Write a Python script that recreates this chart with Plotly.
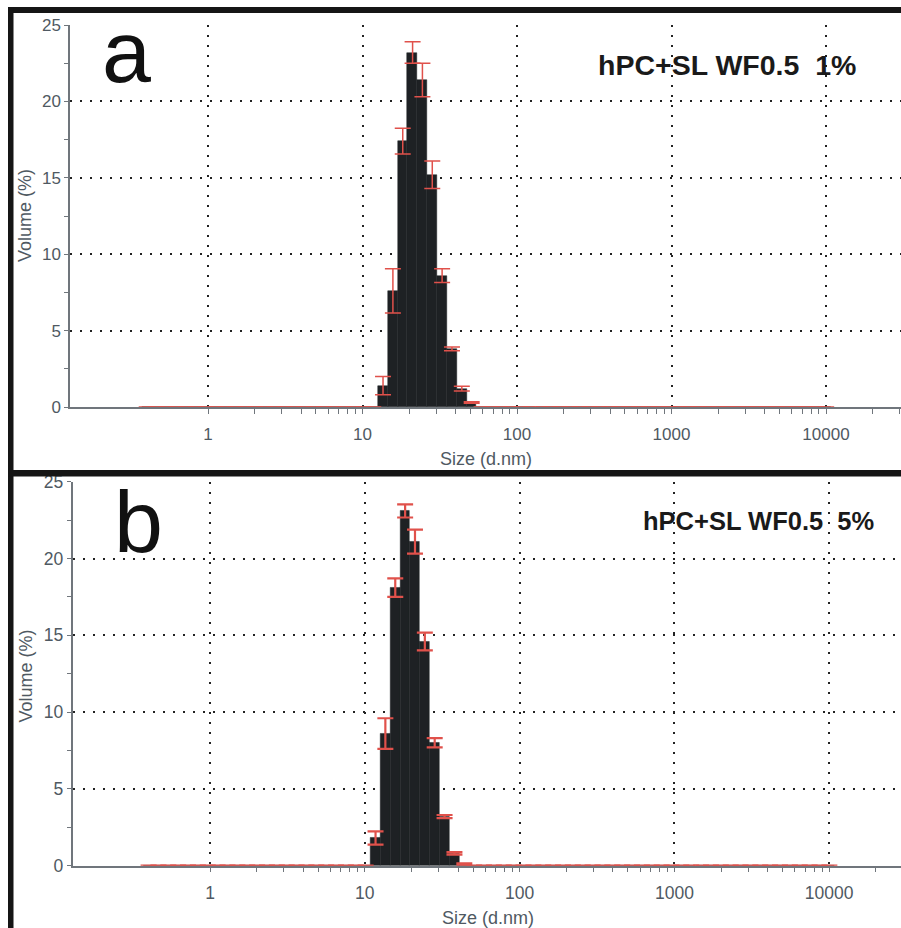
import plotly.graph_objects as go

W, H = 901, 928

# Malvern size classes (d.nm)
sizes_nm = [
    0.4, 0.4632, 0.5365, 0.6213, 0.7195, 0.8332, 0.9649, 1.117, 1.294, 1.499,
    1.736, 2.010, 2.328, 2.696, 3.122, 3.615, 4.187, 4.849, 5.615, 6.503,
    7.531, 8.721, 10.10, 11.70, 13.54, 15.69, 18.17, 21.04, 24.36, 28.21,
    32.67, 37.84, 43.82, 50.75, 58.77, 68.06, 78.82, 91.28, 105.7, 122.4,
    141.8, 164.2, 190.1, 220.2, 255.0, 295.3, 342.0, 396.1, 458.7, 531.2,
    615.1, 712.4, 825.0, 955.4, 1106, 1281, 1484, 1718, 1990, 2305,
    2669, 3091, 3580, 4145, 4801, 5560, 6439, 7456, 8635, 10000,
]

# Panel a: hPC+SL WF0.5 1%
volume_a = [
    0, 0, 0, 0, 0, 0, 0, 0, 0, 0,
    0, 0, 0, 0, 0, 0, 0, 0, 0, 0,
    0, 0, 0, 0, 1.4, 7.6, 17.4, 23.2, 21.4, 15.2,
    8.6, 3.8, 1.2, 0.3, 0, 0, 0, 0, 0, 0,
    0, 0, 0, 0, 0, 0, 0, 0, 0, 0,
    0, 0, 0, 0, 0, 0, 0, 0, 0, 0,
    0, 0, 0, 0, 0, 0, 0, 0, 0, 0,
]
stdev_a = [
    0, 0, 0, 0, 0, 0, 0, 0, 0, 0,
    0, 0, 0, 0, 0, 0, 0, 0, 0, 0,
    0, 0, 0, 0, 0.6, 1.45, 0.85, 0.7, 1.1, 0.9,
    0.45, 0.12, 0.15, 0.05, 0, 0, 0, 0, 0, 0,
    0, 0, 0, 0, 0, 0, 0, 0, 0, 0,
    0, 0, 0, 0, 0, 0, 0, 0, 0, 0,
    0, 0, 0, 0, 0, 0, 0, 0, 0, 0,
]

# Panel b: hPC+SL WF0.5 5%
volume_b = [
    0, 0, 0, 0, 0, 0, 0, 0, 0, 0,
    0, 0, 0, 0, 0, 0, 0, 0, 0, 0,
    0, 0, 0, 1.8, 8.6, 18.1, 23.1, 21.1, 14.6, 8.0,
    3.2, 0.8, 0.1, 0, 0, 0, 0, 0, 0, 0,
    0, 0, 0, 0, 0, 0, 0, 0, 0, 0,
    0, 0, 0, 0, 0, 0, 0, 0, 0, 0,
    0, 0, 0, 0, 0, 0, 0, 0, 0, 0,
]
stdev_b = [
    0, 0, 0, 0, 0, 0, 0, 0, 0, 0,
    0, 0, 0, 0, 0, 0, 0, 0, 0, 0,
    0, 0, 0, 0.43, 1.0, 0.6, 0.43, 0.78, 0.58, 0.3,
    0.1, 0.08, 0.05, 0, 0, 0, 0, 0, 0, 0,
    0, 0, 0, 0, 0, 0, 0, 0, 0, 0,
    0, 0, 0, 0, 0, 0, 0, 0, 0, 0,
    0, 0, 0, 0, 0, 0, 0, 0, 0, 0,
]

x_major = [1, 10, 100, 1000, 10000]
x_major_text = ["1", "10", "100", "1000", "10000"]
x_minor = [2, 3, 4, 5, 6, 7, 8, 9,
           20, 30, 40, 50, 60, 70, 80, 90,
           200, 300, 400, 500, 600, 700, 800, 900,
           2000, 3000, 4000, 5000, 6000, 7000, 8000, 9000,
           20000, 30000]
y_major = [0, 5, 10, 15, 20, 25]
y_minor = [2.5, 7.5, 12.5, 17.5, 22.5]

label_a = "a"
label_b = "b"
title_a = "hPC+SL WF0.5\u00a0\u00a01%"
title_b = "hPC+SL WF0.5\u00a0\u00a05%"
x_title = "Size (d.nm)"
y_title = "Volume (%)"


def px(x):
    return x / W


def py(y):
    return 1 - y / H


FONT = "Liberation Sans, Arial, sans-serif"
AXC = "#70767c"
LBLC = "#4f5962"
GRIDC = "#232323"
BARC = "#1e2124"
ERRC = "#e0514b"

# log-spaced class boundaries: each bar spans one class on the log axis
ratio = (sizes_nm[-1] / sizes_nm[0]) ** (1.0 / (len(sizes_nm) - 1))
half = ratio ** 0.5
bar_offset = [s / half - s for s in sizes_nm]
bar_width = [s * half - s / half for s in sizes_nm]

# panel pixel geometry
panels = {
    "a": dict(x0=70, x_one=208, dec=154.5, ytop=25, ybot=407, lblsize=17, errw=1.5),
    "b": dict(x0=72.5, x_one=210, dec=154.8, ytop=481.7, ybot=865.7, lblsize=17.5, errw=2.2),
}

fig = go.Figure()

for key, vol, sd, xa, ya in [("a", volume_a, stdev_a, "x", "y"),
                             ("b", volume_b, stdev_b, "x2", "y2")]:
    fig.add_trace(go.Bar(
        x=sizes_nm, y=vol, xaxis=xa, yaxis=ya,
        width=bar_width, offset=bar_offset,
        marker=dict(color=BARC, line=dict(color=BARC, width=0.5)),
        error_y=dict(type="data", array=sd, visible=True, color=ERRC,
                     thickness=panels[key]["errw"], width=8),
        showlegend=False, hoverinfo="skip",
    ))

layout_axes = {}
for key, n, ov in [("a", "", "3"), ("b", "2", "4")]:
    g = panels[key]
    xr = [(g["x0"] - g["x_one"]) / g["dec"], (W - g["x_one"]) / g["dec"]]
    xdom = [px(g["x0"]), 1.0]
    ydom = [py(g["ybot"]), py(g["ytop"])]
    xname = "xaxis" + n
    yname = "yaxis" + n
    xid = "x" + n
    yid = "y" + n
    layout_axes[xname] = dict(
        type="log", range=xr, domain=xdom, anchor=yid,
        showline=True, linecolor=AXC, linewidth=1.5,
        ticks="outside", ticklen=5, tickwidth=1.2, tickcolor=AXC,
        tickvals=x_major, ticktext=x_major_text,
        tickfont=dict(family=FONT, size=g["lblsize"], color=LBLC),
        ticklabelstandoff=6,
        minor=dict(tickvals=x_minor, ticks="outside", ticklen=5, tickwidth=1.2,
                   tickcolor=AXC, showgrid=False),
        showgrid=True, gridcolor=GRIDC, gridwidth=2.2, griddash="2.2px,7.8px",
        layer="below traces", zeroline=False, fixedrange=True,
    )
    layout_axes[yname] = dict(
        range=[0, 25], domain=ydom, anchor=xid,
        showline=True, linecolor=AXC, linewidth=1.5,
        ticks="outside", ticklen=4, tickwidth=1.2, tickcolor=AXC,
        tickvals=y_major,
        tickfont=dict(family=FONT, size=g["lblsize"], color=LBLC),
        minor=dict(tickvals=y_minor, ticks="outside", ticklen=4, tickwidth=1.2,
                   tickcolor=AXC, showgrid=False),
        showgrid=True, gridcolor=GRIDC, gridwidth=2.2, griddash="2.2px,7.8px",
        zeroline=False, layer="below traces", fixedrange=True,
    )
    # overlay axes so that the ticks cross the axis lines
    layout_axes["xaxis" + ov] = dict(
        type="log", range=xr, overlaying=xid, anchor=yid, side="bottom",
        showline=False, ticks="inside", ticklen=4, tickwidth=1.2, tickcolor=AXC,
        tickvals=x_major + x_minor, showticklabels=False, showgrid=False,
        zeroline=False, fixedrange=True,
    )
    layout_axes["yaxis" + ov] = dict(
        range=[0, 25], overlaying=yid, anchor=xid, side="left",
        showline=False, ticks="inside", ticklen=5, tickwidth=1.2, tickcolor=AXC,
        tickvals=y_major + y_minor, showticklabels=False, showgrid=False,
        zeroline=False, fixedrange=True,
    )

annotations = [
    dict(text=label_a, x=px(126), y=py(103), xanchor="center", yanchor="bottom",
         font=dict(family=FONT, size=88, color="#111111")),
    dict(text=label_b, x=px(138), y=py(573), xanchor="center", yanchor="bottom",
         font=dict(family=FONT, size=88, color="#111111")),
    dict(text="<b>" + title_a + "</b>", x=px(596), y=py(83), xanchor="left", yanchor="bottom",
         font=dict(family=FONT, size=28.5, color="#1a1a1a")),
    dict(text="<b>" + title_b + "</b>", x=px(641), y=py(537), xanchor="left", yanchor="bottom",
         font=dict(family=FONT, size=25.5, color="#1a1a1a")),
    dict(text=x_title, x=px(486), y=py(459), xanchor="center", yanchor="middle",
         font=dict(family=FONT, size=18, color=LBLC)),
    dict(text=x_title, x=px(488), y=py(918), xanchor="center", yanchor="middle",
         font=dict(family=FONT, size=18, color=LBLC)),
    dict(text=y_title, x=px(25), y=py(216), xanchor="center", yanchor="middle", textangle=-90,
         font=dict(family=FONT, size=18, color=LBLC)),
    dict(text=y_title, x=px(25.5), y=py(676), xanchor="center", yanchor="middle", textangle=-90,
         font=dict(family=FONT, size=18, color=LBLC)),
]
for a in annotations:
    a.update(xref="paper", yref="paper", showarrow=False)

# black scan frame
shapes = [
    dict(type="rect", xref="paper", yref="paper", x0=px(8), x1=1.0, y0=py(13), y1=py(7),
         fillcolor="#151515", line=dict(width=0), layer="above"),
    dict(type="rect", xref="paper", yref="paper", x0=px(8), x1=px(13.5), y0=0, y1=py(7),
         fillcolor="#151515", line=dict(width=0), layer="above"),
    dict(type="rect", xref="paper", yref="paper", x0=px(8), x1=1.0, y0=py(476.5), y1=py(470),
         fillcolor="#151515", line=dict(width=0), layer="above"),
]

fig.update_layout(
    width=W, height=H,
    margin=dict(l=0, r=0, t=0, b=0, pad=0, autoexpand=False),
    paper_bgcolor="white", plot_bgcolor="white",
    bargap=0, showlegend=False, hovermode=False,
    annotations=annotations, shapes=shapes,
    **layout_axes,
)

fig.write_html(
    "out.html",
    config={"displayModeBar": False},
    post_script="document.body.style.margin='0px';document.body.style.overflow='hidden';",
)
